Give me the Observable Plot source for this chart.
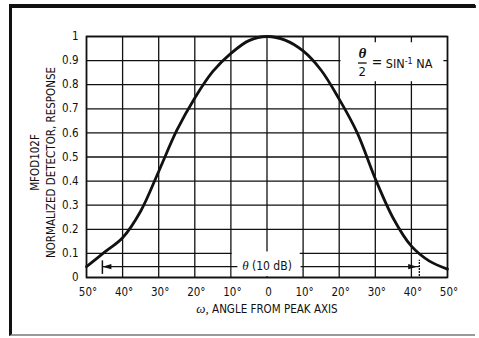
<!DOCTYPE html>
<html><head><meta charset="utf-8">
<script src="https://cdn.jsdelivr.net/npm/d3@7"></script>
<script src="https://cdn.jsdelivr.net/npm/@observablehq/plot@0.6"></script>
<style>
html,body{margin:0;padding:0;background:#fff;}
#wrap{position:relative;width:479px;height:338px;overflow:hidden;background:#fff;}
#wrap svg{position:absolute;left:0;top:0;z-index:1;}
#frame{position:absolute;left:9px;top:4px;width:466px;height:332px;box-sizing:border-box;border-style:solid;border-color:#111 transparent #999 #111;border-width:3px 0 2px 3px;z-index:3;pointer-events:none;}
</style></head><body><div id="wrap"><div id="frame"></div></div>
<script>
// Data
const angles   = [-50, -45, -40, -35, -30, -25, -20, -15, -10, -5, 0, 5, 10, 15, 20, 25, 30, 35, 40, 45, 50];
const response = [0.045, 0.105, 0.165, 0.275, 0.44, 0.61, 0.745, 0.855, 0.93, 0.983, 1.0, 0.985, 0.94, 0.86, 0.74, 0.6, 0.41, 0.245, 0.13, 0.068, 0.035];
const xTicks = [-50, -40, -30, -20, -10, 0, 10, 20, 30, 40, 50];
const yTicks = [0, 0.1, 0.2, 0.3, 0.4, 0.5, 0.6, 0.7, 0.8, 0.9, 1];
const yTickLabels = ["0", "0.1", "0.2", "0.3", "0.4", "0.5", "0.6", "0.7", "0.8", "0.9", "1"];
const xTitle = "ω, ANGLE FROM PEAK AXIS";
const yTitle1 = "MFOD102F";
const yTitle2 = "NORMALIZED DETECTOR, RESPONSE";
const beamLabel = "θ (10 dB)";
const beamEnds = [-45.6, 42.2];   // θ (10 dB) width markers
const beamLevel = 0.045;

const curve = angles.map((a, i) => ({angle: a, value: response[i]}));

const narrow = "'Liberation Sans Narrow', 'DejaVu Sans Condensed', 'Arial Narrow', sans-serif";
const serif = "'Liberation Serif', 'DejaVu Serif', serif";

const headShape = {
  draw(ctx, l, r) {
    ctx.moveTo(0, -l);
    ctx.lineTo(r, 0);
    ctx.lineTo(-r, 0);
    ctx.closePath();
  }
};

const chart = Plot.plot({
  width: 479,
  height: 338,
  marginLeft: 86,
  marginRight: 32,
  marginTop: 36,
  marginBottom: 61,
  style: {fontFamily: narrow, fontSize: "11.5px", color: "#111", background: "transparent", overflow: "visible"},
  x: {domain: [-50, 50]},
  y: {domain: [0, 1]},
  marks: [
    // page border line along the top (outside the plotting frame)
    Plot.ruleY([1.125], {x1: -71.2, x2: 58, stroke: "#111", strokeWidth: 3, clip: false}),
    Plot.gridX(xTicks, {stroke: "#111", strokeOpacity: 1, strokeWidth: 1.3}),
    Plot.gridY(yTicks, {stroke: "#111", strokeOpacity: 1, strokeWidth: 1.3}),
    // white label boxes masking the grid
    Plot.rect([0], {x1: 20.5, x2: 49, y1: 0.8125, y2: 0.974, fill: "white"}),
    Plot.rect([0], {x1: -9.6, x2: 9.2, y1: 0.004, y2: 0.106, fill: "white"}),
    Plot.frame({stroke: "#111", strokeWidth: 1.6}),
    // θ (10 dB) dimension line
    Plot.link([0], {x1: beamEnds[0], x2: -8.2, y1: beamLevel, y2: beamLevel, stroke: "#111", strokeWidth: 1.3}),
    Plot.link([0], {x1: 9.3, x2: beamEnds[1], y1: beamLevel, y2: beamLevel, stroke: "#111", strokeWidth: 1.3}),
    Plot.ruleX([beamEnds[0]], {y1: 0.013, y2: 0.069, stroke: "#111", strokeWidth: 1.5}),
    Plot.ruleX([beamEnds[1]], {y1: 0.004, y2: 0.072, stroke: "#111", strokeWidth: 1.3, strokeDasharray: "2,1"}),
    Plot.vector([0], {x: beamEnds[0], y: beamLevel, rotate: -90, length: 9, r: 2.6, anchor: "end", shape: headShape, fill: "#111", stroke: "none"}),
    Plot.vector([0], {x: beamEnds[1] - 0.6, y: beamLevel, rotate: 90, length: 9, r: 2.6, anchor: "end", shape: headShape, fill: "#111", stroke: "none"}),
    Plot.text([beamLabel], {x: 0, y: beamLevel, text: d => d, fontSize: 12, fill: "#111"}),
    // formula θ/2 = SIN-1 NA
    Plot.text(["θ"], {x: 26.4, y: 0.929, text: d => d, fontSize: 15, fill: "#111"}),
    Plot.link([0], {x1: 25.2, x2: 27.6, y1: 0.89, y2: 0.89, stroke: "#111", strokeWidth: 1.3}),
    Plot.text(["2"], {x: 26.4, y: 0.852, text: d => d, fontSize: 13, fill: "#111"}),
    Plot.text(["="], {x: 30.5, y: 0.89, text: d => d, fontSize: 14, fill: "#111"}),
    Plot.text(["SIN-1 NA"], {x: 32.9, y: 0.885, text: d => d, textAnchor: "start", fontSize: 12.5, fill: "#111"}),
    // response curve
    Plot.line(curve, {x: "angle", y: "value", curve: "catmull-rom", stroke: "#111", strokeWidth: 2.8}),
    // axes
    Plot.axisX({ticks: xTicks, tickSize: 0, tickPadding: 10, dx: 1.5, label: null,
      tickFormat: d => d === 0 ? "0" : Math.abs(d) + "°", fontSize: 11.5}),
    Plot.axisY({ticks: yTicks, tickSize: 0, tickPadding: 8, label: null,
      tickFormat: d => yTickLabels[yTicks.indexOf(d)], fontSize: 11.5}),
    Plot.text([xTitle], {frameAnchor: "bottom", textAnchor: "middle", lineAnchor: "middle", dy: 32, text: d => d, fontSize: 11.5, fill: "#111"}),
    Plot.text([yTitle1], {frameAnchor: "left", textAnchor: "middle", lineAnchor: "middle", dx: -51, dy: 5.5, rotate: -90, text: d => d, fontSize: 11.5, fill: "#111"}),
    Plot.text([yTitle2], {frameAnchor: "left", textAnchor: "middle", lineAnchor: "middle", dx: -35.5, dy: 5.5, rotate: -90, text: d => d, fontSize: 11.5, fill: "#111"})
  ]
});

document.getElementById("wrap").insertBefore(chart, document.getElementById("frame"));

// rich text formatting (italic Greek letters, superscript)
function rich(match, build) {
  chart.querySelectorAll("text").forEach(t => {
    if (t.textContent === match) {
      t.textContent = "";
      build(d3.select(t));
    }
  });
}
rich(xTitle, s => {
  s.append("tspan").attr("font-family", serif).attr("font-style", "italic").attr("font-size", 13).text("ω,");
  s.append("tspan").text(" ANGLE FROM PEAK AXIS");
});
rich(beamLabel, s => {
  s.append("tspan").attr("font-family", serif).attr("font-style", "italic").attr("font-size", 13).text("θ");
  s.append("tspan").text(" (10 dB)");
});
rich("θ", s => {
  s.append("tspan").attr("font-family", serif).attr("font-style", "italic").attr("font-weight", "bold").text("θ");
});
rich("SIN-1 NA", s => {
  s.append("tspan").text("SIN");
  s.append("tspan").attr("dy", -4).attr("font-size", 9).text("-1");
  s.append("tspan").attr("dy", 4).text(" NA");
});
</script>
</body></html>
